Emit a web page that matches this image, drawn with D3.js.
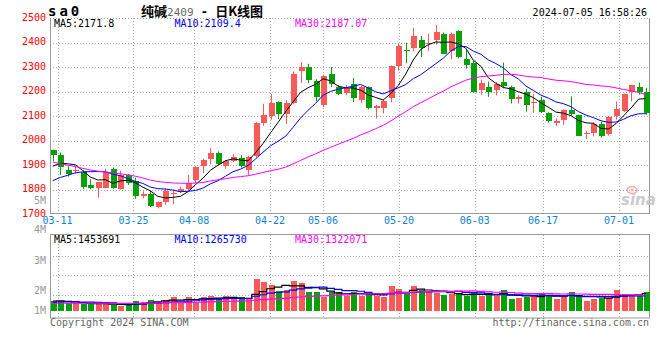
<!DOCTYPE html>
<html><head><meta charset="utf-8">
<script src="https://cdn.jsdelivr.net/npm/d3@7/dist/d3.min.js"></script>
<style>
html,body{margin:0;padding:0;background:#fff;}
svg{display:block;}
text{font-family:"DejaVu Sans Mono",monospace;font-size:10px;}
</style></head><body>
<svg id="c" width="660" height="360"></svg>
<script>
// ---------- data ----------
const dates = ["03-08","03-11","03-12","03-13","03-14","03-15","03-18","03-19","03-20","03-21","03-22",
"03-25","03-26","03-27","03-28","03-29","04-01","04-02","04-03","04-08","04-09","04-10","04-11","04-12",
"04-15","04-16","04-17","04-18","04-19","04-22","04-23","04-24","04-25","04-26","04-29","04-30",
"05-06","05-07","05-08","05-09","05-10","05-13","05-14","05-15","05-16","05-17","05-20","05-21","05-22","05-23","05-24",
"05-27","05-28","05-29","05-30","05-31","06-03","06-04","06-05","06-06","06-07","06-11","06-12","06-13","06-14",
"06-17","06-18","06-19","06-20","06-21","06-24","06-25","06-26","06-27","06-28","07-01","07-02","07-03","07-04","07-05"];
const opens  = [1960,1942,1881,1874,1871,1819,1808,1808,1885,1803,1858,1833,1775,1780,1730,1751,1781,1790,1803,1840,
1895,1925,1950,1897,1918,1930,1878,1935,2073,2098,2157,2109,2155,2282,2299,2241,2146,2272,2220,2193,
2231,2167,2219,2132,2132,2172,2306,2369,2377,2410,2399,2410,2436,2364,2448,2332,2317,2206,2219,2206,
2240,2217,2168,2200,2155,2166,2112,2071,2082,2125,2105,2026,2031,2067,2027,2098,2119,2198,2218,2200];
const highs  = [1963,1951,1895,1898,1878,1842,1830,1885,1890,1877,1863,1848,1793,1795,1751,1805,1800,1812,1860,1895,
1926,1968,1955,1920,1945,1940,1938,2075,2150,2190,2160,2165,2282,2320,2313,2250,2268,2300,2226,2226,
2255,2223,2221,2146,2167,2306,2397,2399,2460,2427,2436,2471,2441,2440,2450,2372,2325,2248,2240,2238,
2318,2223,2185,2209,2190,2179,2115,2091,2127,2180,2106,2040,2075,2076,2100,2159,2192,2228,2236,2214];
const lows   = [1915,1860,1853,1864,1801,1801,1766,1805,1803,1800,1819,1762,1764,1728,1723,1737,1740,1785,1798,1826,
1867,1903,1900,1885,1912,1890,1860,1930,2060,2085,2088,2068,2150,2235,2235,2160,2136,2218,2185,2185,
2157,2152,2127,2090,2110,2156,2286,2315,2364,2341,2366,2392,2355,2331,2335,2293,2195,2187,2178,2184,
2213,2151,2151,2118,2113,2112,2074,2058,2064,2102,2018,2006,2017,2012,2020,2086,2116,2160,2187,2105];
const closes = [1940,1890,1864,1881,1812,1808,1829,1870,1808,1858,1826,1774,1782,1732,1747,1792,1786,1804,1825,1893,
1922,1950,1905,1917,1932,1896,1934,2070,2105,2152,2108,2152,2272,2298,2248,2177,2265,2229,2190,2214,
2174,2220,2131,2140,2161,2305,2386,2364,2427,2377,2400,2444,2355,2434,2342,2307,2200,2234,2196,2230,
2222,2170,2177,2146,2159,2118,2078,2079,2124,2108,2020,2030,2068,2020,2097,2129,2190,2227,2200,2113];
const volumes = [830000,830000,630000,630000,540000,540000,630000,630000,480000,400000,
480000,830000,740000,910000,770000,910000,1170000,770000,1170000,770000,
1170000,1250000,1050000,1250000,970000,970000,1050000,2710000,2450000,2190000,
1680000,1770000,2540000,2390000,1600000,1600000,1170000,1620000,1600000,1250000,
1620000,1250000,1480000,1250000,1200000,2110000,1850000,1420000,2110000,1770000,
1700000,1480000,1300000,1420000,1420000,1250000,1620000,1250000,1380000,1250000,
1800000,1000000,1110000,1200000,1250000,1480000,1340000,1000000,1200000,1560000,
1380000,850000,1020000,1080000,1050000,1770000,1420000,1250000,1250000,1580000];
// closes and volumes of the 29 sessions before 03-08 (only used for moving averages)
const priorCloses = [2070,2060,2050,2040,2000,1975,1960,1950,1955,1945,1950,1990,2000,1915,1900,
1860,1835,1840,1850,1855,1760,1774,1781,1772,1798,1830,1875,1900,1930];
const priorVolumes = [620000,580000,550000,600000,570000,540000,590000,610000,560000,580000,
600000,570000,550000,620000,590000,560000,600000,580000,610000,580000,
580000,630000,600000,620000,620000,780000,850000,820000,870000];
const priceTicks = [2500,2400,2300,2200,2100,2000,1900,1800,1700];
const dateTicks = ["03-11","03-25","04-08","04-22","05-06","05-20","06-03","06-17","07-01"];
const volTickValues = [5,4,3,2,1];
const volTickLabels = ["5M","4M","3M","2M","1M"];
const maPeriods = [5,10,30];
const maColors = ["#000000","#0000ff","#ff00ff"];
const priceMALabels = ["MA5:2171.8","MA10:2109.4","MA30:2187.07"];
const volMALabels = ["MA5:1453691","MA10:1265730","MA30:1322071"];
const symbol = "sa0";
const titleName = "纯碱", titleCode = "2409", titleDash = "\u00a0-\u00a0", titleRest = "日K线图";
const stamp = "2024-07-05 16:58:26";

// ---------- scales ----------
const svg = d3.select("#c");
const L = 50, R = 650;
const x = d3.scaleBand().domain(dates).range([49, 649.8]).paddingInner(0.2).paddingOuter(0.1);
const cx = d => x(d) + x.bandwidth()/2;
const gridX = d3.scaleLinear().domain([0, dates.length-1]).range([50, 649.3]);
const yP = d3.scaleLinear().domain([1700,2500]).range([214,18]);
const yV = d3.scaleLinear().domain([0,6e6]).range([310.7,240.5]);
const volRow = d3.scaleLinear().domain([0,4]).range([236,314.5]);
const volLabelY = d3.scaleLinear().domain(volTickValues).range([204,232.7,264.3,294.3,314.3]);

const RED = "#f85a5a", GREEN = "#08a008", GRID = "#a8a8a8", AXIS = "#9a9a9a";

function movingAvg(prior, vals, n){
  const full = prior.concat(vals), off = prior.length;
  return vals.map((v,i) => d3.mean(full.slice(off+i-n+1, off+i+1)));
}

// ---------- grid ----------
const g = svg.append("g");
g.selectAll(".hp").data(priceTicks.slice(0,-1)).enter().append("line")
  .attr("x1",L).attr("x2",R).attr("y1",d=>Math.round(yP(d))+0.5).attr("y2",d=>Math.round(yP(d))+0.5)
  .attr("stroke",GRID).attr("stroke-dasharray","1,2");
dateTicks.forEach(t=>{
  const xx = Math.round(gridX(dates.indexOf(t)))+0.5;
  g.append("line").attr("x1",xx).attr("x2",xx).attr("y1",18).attr("y2",213)
    .attr("stroke",GRID).attr("stroke-dasharray","1,2");
  g.append("line").attr("x1",xx).attr("x2",xx).attr("y1",235).attr("y2",318)
    .attr("stroke",GRID).attr("stroke-dasharray","1,2");
});
g.selectAll(".hv").data([1,2,3]).enter().append("line")
  .attr("x1",L).attr("x2",R).attr("y1",d=>Math.round(volRow(d))+0.5).attr("y2",d=>Math.round(volRow(d))+0.5)
  .attr("stroke",GRID).attr("stroke-dasharray","1,2");

const yBot = Math.round(yP(1700))-0.5;
g.append("line").attr("x1",L+0.5).attr("x2",L+0.5).attr("y1",18).attr("y2",yBot+0.5).attr("stroke",AXIS);
g.append("line").attr("x1",R-0.5).attr("x2",R-0.5).attr("y1",18).attr("y2",yBot+0.5).attr("stroke",AXIS);
g.append("line").attr("x1",L).attr("x2",R).attr("y1",yBot).attr("y2",yBot).attr("stroke",AXIS);
g.append("rect").attr("x",L+0.5).attr("y",234.5).attr("width",R-L-1).attr("height",83.5)
  .attr("fill","none").attr("stroke",AXIS);

// ---------- watermark ----------
const wm = svg.append("g").attr("opacity",0.9);
wm.append("ellipse").attr("cx",632).attr("cy",190).attr("rx",5).attr("ry",3.5)
  .attr("fill","none").attr("stroke","#f4a0a0").attr("stroke-width",1.5);
wm.append("circle").attr("cx",632).attr("cy",190).attr("r",1.5).attr("fill","#f4a0a0");
wm.append("text").attr("x",621).attr("y",205).text("sina")
  .style("font-family","DejaVu Sans").style("font-size","15px").style("font-weight","bold")
  .style("font-style","italic").attr("fill","#c6c6c6");

// ---------- candles ----------
const cg = svg.append("g");
dates.forEach((d,i)=>{
  const o=opens[i], c=closes[i], up = c>=o, col = up?RED:GREEN;
  const xc = Math.round(cx(d));
  cg.append("line").attr("x1",xc+0.5).attr("x2",xc+0.5)
    .attr("y1",yP(highs[i])).attr("y2",yP(lows[i])).attr("stroke",col);
  const top = yP(Math.max(o,c)), bot = yP(Math.min(o,c));
  cg.append("rect").attr("x",xc-2.5).attr("width",6)
    .attr("y",Math.round(top)).attr("height",Math.max(1,Math.round(bot)-Math.round(top)))
    .attr("fill",col).attr("shape-rendering","crispEdges");
});

// ---------- price MAs ----------
maPeriods.forEach((n,k)=>{
  const ma = movingAvg(priorCloses, closes, n);
  svg.append("path").datum(ma)
    .attr("d", d3.line().x((v,i)=>cx(dates[i])).y(v=>yP(v)))
    .attr("fill","none").attr("stroke",maColors[k]).attr("stroke-width",1);
});

// ---------- volume bars ----------
const vg = svg.append("g");
dates.forEach((d,i)=>{
  const col = closes[i]>=opens[i]?RED:GREEN;
  const xc = Math.round(cx(d));
  vg.append("rect").attr("x",xc-2.5).attr("width",6)
    .attr("y",Math.round(yV(volumes[i]))).attr("height",Math.round(yV(0))-Math.round(yV(volumes[i])))
    .attr("fill",col).attr("shape-rendering","crispEdges");
});
maPeriods.forEach((n,k)=>{
  const ma = movingAvg(priorVolumes, volumes, n);
  svg.append("path").datum(ma)
    .attr("d", d3.line().curve(d3.curveStep).x((v,i)=>cx(dates[i])).y(v=>yV(v)))
    .attr("fill","none").attr("stroke",maColors[k]).attr("stroke-width",1.2);
});

// ---------- labels ----------
const tg = svg.append("g");
tg.selectAll(".pl").data(priceTicks).enter().append("text")
  .attr("x",46).attr("y",d=>yP(d)+2.5).attr("text-anchor","end").attr("fill","#ff0000").text(d=>d);
tg.selectAll(".vl").data(volTickValues).enter().append("text")
  .attr("x",46).attr("y",d=>volLabelY(d)).attr("text-anchor","end").attr("fill","#999")
  .text((d,i)=>volTickLabels[i]);
tg.selectAll(".dl").data(dateTicks).enter().append("text")
  .attr("x",d=>gridX(dates.indexOf(d))).attr("y",224).attr("text-anchor","middle")
  .attr("fill","#0a84d6").text(d=>d);

const legX = d3.scaleLinear().domain([0,2]).range([54,295]);
priceMALabels.forEach((t,k)=>{
  tg.append("text").attr("x",legX(k)).attr("y",27).attr("fill",maColors[k]).text(t);
});
volMALabels.forEach((t,k)=>{
  tg.append("text").attr("x",legX(k)).attr("y",243).attr("fill",maColors[k]).text(t);
});

// header
tg.append("text").attr("x",48).attr("y",16).text(symbol)
  .style("font-size","14px").style("font-weight","bold").style("letter-spacing","3px").attr("fill","#000");
const tt = tg.append("text").attr("x",141).attr("y",15.5).attr("fill","#000");
tt.append("tspan").text(titleName).style("font-family","'Noto Sans CJK SC'").style("font-size","13px").style("font-weight","bold");
tt.append("tspan").text(titleCode).style("font-size","11px").attr("fill","#666");
tt.append("tspan").text(titleDash).style("font-size","12px").style("font-weight","bold");
tt.append("tspan").text(titleRest).style("font-family","'Noto Sans CJK SC'").style("font-size","13px").style("font-weight","bold");
tg.append("text").attr("x",647).attr("y",15.5).attr("text-anchor","end").attr("fill","#000").text(stamp);

// footer
tg.append("text").attr("x",50).attr("y",325.5).attr("fill","#666").text("Copyright 2024 SINA.COM");
tg.append("text").attr("x",649).attr("y",325.5).attr("text-anchor","end").attr("fill","#666").text("http://finance.sina.com.cn");
</script>
</body></html>
